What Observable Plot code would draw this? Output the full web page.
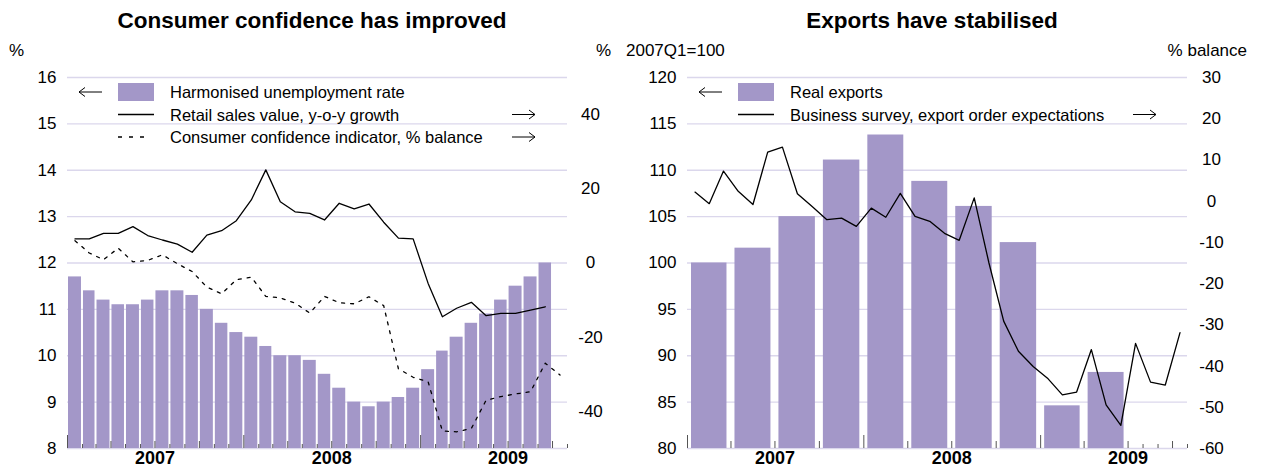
<!DOCTYPE html>
<html><head><meta charset="utf-8">
<script src="https://cdn.jsdelivr.net/npm/d3@7"></script>
<script src="https://cdn.jsdelivr.net/npm/@observablehq/plot@0.6"></script>
<style>
body{margin:0;background:#fff;font-family:"Liberation Sans",Arial,Helvetica,sans-serif;}
#wrap{position:relative;width:1261px;height:470px;display:flex;overflow:hidden;}
.panel{position:relative;flex:none;}
svg{overflow:visible;}
</style></head><body><div id="wrap"><div id="left" class="panel"></div><div id="right" class="panel"></div></div>
<script>
// ---- data (monthly from Jan 2007 unless noted) ----
const unemployment = [11.7,11.4,11.2,11.1,11.1,11.2,11.4,11.4,11.3,11.0,10.7,10.5,10.4,10.2,10.0,10.0,9.9,9.6,9.3,9.0,8.9,9.0,9.1,9.3,9.7,10.1,10.4,10.7,10.9,11.2,11.5,11.7,12.0];
const retailSales = [6.5,6.5,8.0,8.0,9.8,7.4,6.2,5.1,2.9,7.5,8.7,11.4,17.0,25.1,16.5,13.8,13.4,11.6,16.1,14.6,15.9,11.0,6.7,6.5,-5.5,-14.5,-12.2,-10.6,-14.2,-13.6,-13.6,-12.7,-11.8];
const consumerConfidence = [6.0,2.7,0.9,4.0,0.3,0.7,2.2,-0.2,-2.3,-6.5,-8.3,-4.5,-3.8,-9.0,-9.4,-10.8,-13.5,-9.0,-10.7,-11.0,-9.1,-11.5,-28.5,-30.8,-32.0,-45.3,-45.5,-44.6,-37.0,-36.0,-35.3,-34.7,-27.0,-30.2];
// quarterly from 2007Q1
const realExports = [100,101.6,105.0,111.1,113.8,108.8,106.1,102.2,84.6,88.2];
const exportOrders = [2.2,-0.6,7.3,2.4,-0.8,11.9,13.1,1.8,-1.3,-4.5,-4.1,-6.1,-1.7,-3.9,1.9,-3.7,-4.9,-7.8,-9.5,0.8,-15.0,-29.1,-36.4,-40.1,-43.1,-47.0,-46.3,-36.0,-49.4,-54.4,-34.5,-43.9,-44.6,-31.9];
const years = [2007,2008,2009];
const leftTicksL = [8,9,10,11,12,13,14,15,16];
const leftTicksR = [-40,-20,0,20,40];
const rightTicksL = [80,85,90,95,100,105,110,115,120];
const rightTicksR = [-60,-50,-40,-30,-20,-10,0,10,20,30];

const FONT = '"Liberation Sans", Arial, Helvetica, sans-serif';
const BAR = "#a397c8";
const GRID = "#dbd7ec";
const t0 = new Date(Date.UTC(2007,0,1));
const tEnd = new Date(Date.UTC(2009,10,1));
const month = i => d3.utcMonth.offset(t0, i);
const mid = i => new Date((+month(i) + +month(i + 1)) / 2);
const allMonths = d3.utcMonths(t0, d3.utcMonth.offset(tEnd, 1));
const monthTicks = allMonths.filter(d => d.getUTCMonth() % 3 !== 0);
const quarterTicks = allMonths.filter(d => d.getUTCMonth() % 3 === 0 && d.getUTCMonth() !== 0);
const yearTicks = allMonths.filter(d => d.getUTCMonth() === 0);

const H = 470, MT = 77, MB = 22, FH = H - MT - MB;

function ticksMarks() {
  return [
    Plot.ruleX(monthTicks, {x: d => d, stroke: "#555", strokeWidth: 1, insetTop: FH - 4}),
    Plot.ruleX(quarterTicks, {x: d => d, stroke: "#555", strokeWidth: 1, insetTop: FH - 7}),
    Plot.ruleX(yearTicks, {x: d => d, stroke: "#555", strokeWidth: 1, insetTop: FH - 13})
  ];
}
function yearLabels() {
  return Plot.text(years, {x: y => new Date(Date.UTC(y, 6, 1)), text: d => String(d), frameAnchor: "bottom", dy: 15, fontWeight: "bold", fontSize: 18, fill: "#000"});
}

// ---- left panel ----
const rToL = r => 12 + r / 12.5;
const lToR = l => Math.round((l - 12) * 12.5);
const leftPlot = Plot.plot({
  width: 620, height: H, marginLeft: 67, marginRight: 53, marginTop: MT, marginBottom: MB,
  x: {type: "utc", domain: [t0, tEnd], axis: null},
  y: {domain: [8, 16], axis: null},
  style: {fontFamily: FONT, fontSize: "17px", color: "#000", background: "transparent"},
  marks: [
    Plot.gridY(leftTicksL, {stroke: GRID, strokeOpacity: 1, strokeWidth: 1.3}),
    Plot.rect(unemployment, {x1: (d, i) => month(i), x2: (d, i) => month(i + 1), y1: 8, y2: d => d, fill: BAR, insetLeft: 1, insetRight: 1}),
    ...ticksMarks(),
    Plot.line(retailSales, {x: (d, i) => mid(i), y: d => rToL(d), stroke: "#000", strokeWidth: 1.3}),
    Plot.line(consumerConfidence, {x: (d, i) => mid(i), y: d => rToL(d), stroke: "#000", strokeWidth: 1.3, strokeDasharray: "3,6"}),
    Plot.axisY(leftTicksL, {anchor: "left", tickSize: 0, tickPadding: 11, fontSize: 17, tickFormat: d => String(d)}),
    Plot.axisY(leftTicksR.map(rToL), {anchor: "right", tickSize: 0, tickPadding: 23, textAnchor: "middle", fontSize: 17, tickFormat: v => String(lToR(v))}),
    yearLabels()
  ]
});
document.getElementById("left").appendChild(leftPlot);

// ---- right panel ----
const rToL2 = r => (r + 240) / 2.25;
const lToR2 = l => Math.round(l * 2.25 - 240);
const rightPlot = Plot.plot({
  width: 641, height: H, marginLeft: 67, marginRight: 74, marginTop: MT, marginBottom: MB,
  x: {type: "utc", domain: [t0, tEnd], axis: null},
  y: {domain: [80, 120], axis: null},
  style: {fontFamily: FONT, fontSize: "17px", color: "#000", background: "transparent"},
  marks: [
    Plot.gridY(rightTicksL, {stroke: GRID, strokeOpacity: 1, strokeWidth: 1.3}),
    ...ticksMarks(),
    Plot.rect(realExports, {x1: (d, i) => month(3 * i), x2: (d, i) => month(3 * i + 3), y1: 80, y2: d => d, fill: BAR, insetLeft: 4, insetRight: 4}),
    Plot.line(exportOrders, {x: (d, i) => mid(i), y: d => rToL2(d), stroke: "#000", strokeWidth: 1.3}),
    Plot.axisY(rightTicksL, {anchor: "left", tickSize: 0, tickPadding: 11, fontSize: 17, tickFormat: d => String(d)}),
    Plot.axisY(rightTicksR.map(rToL2), {anchor: "right", tickSize: 0, tickPadding: 24, textAnchor: "middle", fontSize: 17, tickFormat: v => String(lToR2(v))}),
    yearLabels()
  ]
});
document.getElementById("right").appendChild(rightPlot);

// ---- titles, units, legends ----
function decorate(svgNode, opt) {
  const svg = d3.select(svgNode);
  const g = svg.append("g").attr("font-family", FONT).attr("fill", "#000").attr("text-anchor", "start");
  g.append("text").attr("x", opt.titleX).attr("y", 20).attr("text-anchor", "middle").attr("dominant-baseline", "central")
    .attr("font-weight", "bold").attr("font-size", 22.5).text(opt.title);
  g.append("text").attr("x", opt.unitL[0]).attr("y", 50).attr("text-anchor", "start").attr("dominant-baseline", "central").attr("font-size", 17).text(opt.unitL[1]);
  g.append("text").attr("x", opt.unitR[0]).attr("y", 50).attr("text-anchor", "end").attr("dominant-baseline", "central").attr("font-size", 17).text(opt.unitR[1]);
  const x0 = 67;
  opt.items.forEach((it, k) => {
    const y = 92 + 22.5 * k;
    if (it.type === "bar") g.append("rect").attr("x", x0 + 51).attr("y", y - 9).attr("width", 36).attr("height", 18).attr("fill", BAR);
    else if (it.type === "dash") g.append("line").attr("x1", x0 + 51).attr("x2", x0 + 77).attr("y1", y).attr("y2", y).attr("stroke", "#000").attr("stroke-width", 1.3).attr("stroke-dasharray", "4,7");
    else g.append("line").attr("x1", x0 + 51).attr("x2", x0 + 87).attr("y1", y).attr("y2", y).attr("stroke", "#000").attr("stroke-width", 1.3);
    g.append("text").attr("x", x0 + 103).attr("y", y).attr("text-anchor", "start").attr("dominant-baseline", "central").attr("font-size", 16.5).text(it.label);
    if (it.arrow === "left") {
      g.append("path").attr("d", `M${x0 + 35},${y} H${x0 + 12} M${x0 + 18},${y - 4.5} L${x0 + 12},${y} L${x0 + 18},${y + 4.5}`).attr("fill", "none").attr("stroke", "#000").attr("stroke-width", 1);
    } else if (it.arrow === "right") {
      const ax = opt.arrowRX;
      g.append("path").attr("d", `M${ax},${y} H${ax + 23} M${ax + 17},${y - 4.5} L${ax + 23},${y} L${ax + 17},${y + 4.5}`).attr("fill", "none").attr("stroke", "#000").attr("stroke-width", 1);
    }
  });
}
decorate(leftPlot, {
  title: "Consumer confidence has improved", titleX: 312,
  unitL: [9, "%"], unitR: [611, "%"], arrowRX: 512,
  items: [
    {type: "bar", label: "Harmonised unemployment rate", arrow: "left"},
    {type: "line", label: "Retail sales value, y-o-y growth", arrow: "right"},
    {type: "dash", label: "Consumer confidence indicator, % balance", arrow: "right"}
  ]
});
decorate(rightPlot, {
  title: "Exports have stabilised", titleX: 312,
  unitL: [6, "2007Q1=100"], unitR: [627, "% balance"], arrowRX: 513,
  items: [
    {type: "bar", label: "Real exports", arrow: "left"},
    {type: "line", label: "Business survey, export order expectations", arrow: "right"}
  ]
});
</script></body></html>
